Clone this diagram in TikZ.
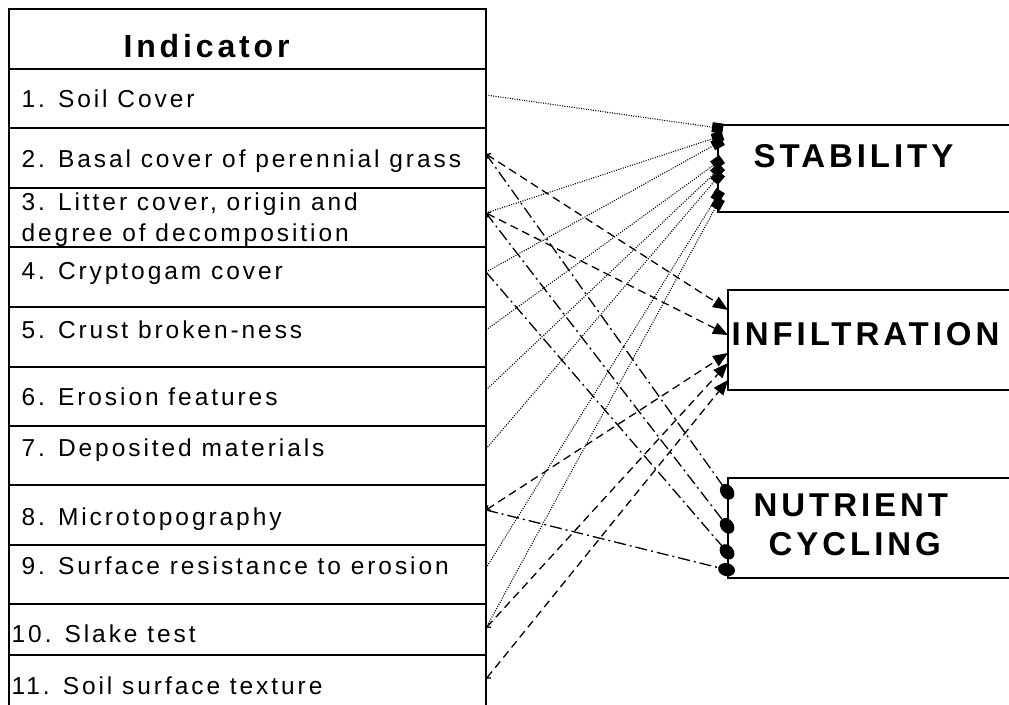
\documentclass[tikz,border=0pt]{standalone}
\usepackage{fontspec}
\setmainfont{Liberation Sans}[LetterSpace=12]
\usetikzlibrary{arrows.meta, positioning, calc}

\begin{document}
\begin{tikzpicture}
            [x=1pt, y=-1pt, line width=1.3pt,
            rowbox/.style={rectangle, draw=black, line width=1.6pt, minimum width=477pt, outer sep=0pt, inner sep=0pt},
            rowtext/.style={anchor=base west, inner sep=0pt, font=\fontsize{24.5}{29}\selectfont},
            headtext/.style={anchor=base west, inner sep=0pt, font=\fontsize{33}{40}\selectfont\bfseries},
            outbox/.style={rectangle, draw=black, line width=1.4pt, minimum width=300pt, minimum height=100pt, anchor=north west, outer sep=0pt},
            tostab/.style={-{Square[length=11pt,width=10pt]}, shorten >=-5pt, line width=1.1pt, dash pattern=on 1pt off 1.4pt},
            toinfl/.style={{Straight Barb[length=3pt,width=6pt]}-{Triangle[length=15pt,width=12pt]}, dash pattern=on 8pt off 5pt},
            tonutr/.style={-{Circle[length=17pt,width=13pt]}, shorten >=-7pt, dash pattern=on 12pt off 4pt on 2pt off 4pt}]

            \useasboundingbox (0,0) rectangle (1009,704);
            \clip (0,0) rectangle (1009,704);

            % indicator table
            \node[rowbox, minimum height=60pt, anchor=north west] (r0) at (9,9) {};
            \node[rowbox, minimum height=59pt] (r1) [below=0pt of r0] {};
            \node[rowbox, minimum height=60pt] (r2) [below=0pt of r1] {};
            \node[rowbox, minimum height=59pt] (r3) [below=0pt of r2] {};
            \node[rowbox, minimum height=60pt] (r4) [below=0pt of r3] {};
            \node[rowbox, minimum height=60pt] (r5) [below=0pt of r4] {};
            \node[rowbox, minimum height=59pt] (r6) [below=0pt of r5] {};
            \node[rowbox, minimum height=59pt] (r7) [below=0pt of r6] {};
            \node[rowbox, minimum height=60pt] (r8) [below=0pt of r7] {};
            \node[rowbox, minimum height=59pt] (r9) [below=0pt of r8] {};
            \node[rowbox, minimum height=51pt] (r10) [below=0pt of r9] {};
            \node[rowbox, minimum height=60pt] (r11) [below=0pt of r10] {};

            \node[headtext, font=\fontsize{32}{38}\selectfont\bfseries] (head) at (123,57) {Indicator};
            \node[rowtext] (t1) at (21,107) {1. Soil Cover};
            \node[rowtext] (t2) at (21,167) {2. Basal cover of perennial grass};
            \node[rowtext] (t3) at (21,210) {3. Litter cover, origin and};
            \node[rowtext] (t3b) at (21,241) {degree of decomposition};
            \node[rowtext] (t4) at (21,279) {4. Cryptogam cover};
            \node[rowtext] (t5) at (21,338) {5. Crust broken-ness};
            \node[rowtext] (t6) at (21,405) {6. Erosion features};
            \node[rowtext] (t7) at (21,456) {7. Deposited materials};
            \node[rowtext] (t8) at (21,525) {8. Microtopography};
            \node[rowtext] (t9) at (21,574) {9. Surface resistance to erosion};
            \node[rowtext] (t10) at (11,642) {10. Slake test};
            \node[rowtext] (t11) at (11,694) {11. Soil surface texture};

            % attributes
            \node[outbox, minimum height=87pt] (stability) at (718,125) {};
            \node[outbox] (infiltration) at (728,290) {};
            \node[outbox] (nutrient) at (728,478) {};
            \node[headtext] (stabtext) at (753,167) {STABILITY};
            \node[headtext] (infltext) at (731,345) {INFILTRATION};
            \node[headtext] (nutrtext) at (753,516) {NUTRIENT};
            \node[headtext] (cycltext) at (768,555) {CYCLING};

            % start points on the table edge
            \coordinate (p1) at (486,95);
            \coordinate (p2) at (486,154);
            \coordinate (p3) at (486,213);
            \coordinate (p4) at (486,272);
            \coordinate (p5) at (486,330);
            \coordinate (p6) at (486,390);
            \coordinate (p7) at (486,449);
            \coordinate (p8) at (486,510);
            \coordinate (p9) at (486,568);
            \coordinate (p10) at (486,628);
            \coordinate (p11) at (486,679);

            \draw[tostab] (p1) -- (stability.west |- 0,128);
            \draw[tostab] (p3) -- (stability.west |- 0,137);
            \draw[tostab] (p4) -- (stability.west |- 0,143);
            \draw[tostab] (p5) -- (stability.west |- 0,162);
            \draw[tostab] (p6) -- (stability.west |- 0,170);
            \draw[tostab] (p7) -- (stability.west |- 0,177);
            \draw[tostab] (p9) -- (stability.west |- 0,195);
            \draw[tostab] (p10) -- (stability.west |- 0,203);

            \draw[toinfl] (p2) -- (infiltration.west |- 0,310);
            \draw[toinfl] (p3) -- (infiltration.west |- 0,335);
            \draw[toinfl] (p8) -- (infiltration.west |- 0,353);
            \draw[toinfl] (p10) -- (infiltration.west |- 0,363);
            \draw[toinfl] (p11) -- (infiltration.west |- 0,380);

            \draw[tonutr] (p2) -- (nutrient.west |- 0,493);
            \draw[tonutr] (p3) -- (nutrient.west |- 0,527);
            \draw[tonutr] (p4) -- (nutrient.west |- 0,553);
            \draw[tonutr] (p8) -- (nutrient.west |- 0,570);

        \end{tikzpicture}
\end{document}
